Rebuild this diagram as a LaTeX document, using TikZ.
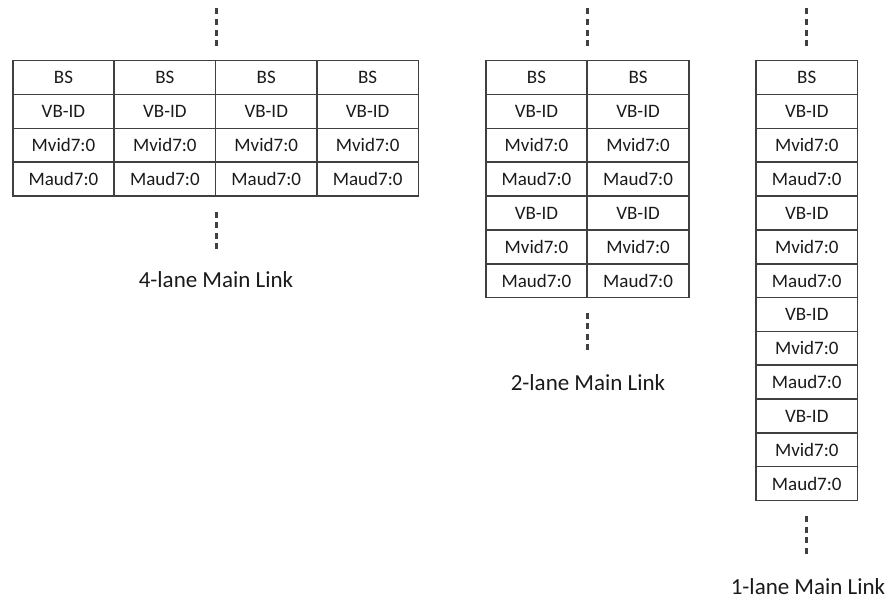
\documentclass[tikz,border=0pt]{standalone}
\usepackage{fontspec}
\setmainfont{Carlito}
\definecolor{linec}{HTML}{404040}
\definecolor{textc}{HTML}{1A1A1A}
\begin{document}
\begin{tikzpicture}[x=1pt,y=-1pt,
  cell/.style={draw=linec,line width=1.6pt,minimum width=101.5pt,minimum height=33.85pt,
    inner sep=0pt,outer sep=0pt,anchor=north west,text=textc,font=\fontsize{19}{19}\selectfont},
  vdots/.style={draw=linec,line width=3pt,dash pattern=on 6pt off 4.6pt},
  lbl/.style={text=textc,font=\fontsize{23}{23}\selectfont,inner sep=0pt}]
\useasboundingbox (0,0) rectangle (890,599);
% 4-lane
\foreach \c in {0,...,3}{
  \foreach \r/\t in {0/BS,1/VB-ID,2/Mvid7:0,3/Maud7:0}{
    \node[cell] (a-\c-\r) at ({12.7+101.4*\c},{60.7+33.83*\r}) {\t};
  }
}
% 2-lane
\foreach \c in {0,1}{
  \foreach \r/\t in {0/BS,1/VB-ID,2/Mvid7:0,3/Maud7:0,4/VB-ID,5/Mvid7:0,6/Maud7:0}{
    \node[cell] (b-\c-\r) at ({485.7+101.6*\c},{60.7+33.83*\r}) {\t};
  }
}
% 1-lane
\foreach \r/\t in {0/BS,1/VB-ID,2/Mvid7:0,3/Maud7:0,4/VB-ID,5/Mvid7:0,6/Maud7:0,7/VB-ID,8/Mvid7:0,9/Maud7:0,10/VB-ID,11/Mvid7:0,12/Maud7:0}{
  \node[cell] (c-\r) at (756,{60.7+33.83*\r}) {\t};
}
% dotted continuation marks
\coordinate (a-top1) at (216,8.5);   \coordinate (a-top2) at (216,47);
\coordinate (a-bot1) at (216,211.5); \coordinate (a-bot2) at (216,250);
\coordinate (b-top1) at (587.3,8.5); \coordinate (b-top2) at (587.3,47);
\coordinate (b-bot1) at (587.3,312.5); \coordinate (b-bot2) at (587.3,351);
\coordinate (c-top1) at (806.8,8.5); \coordinate (c-top2) at (806.8,47);
\coordinate (c-bot1) at (806.8,516); \coordinate (c-bot2) at (806.8,554.5);
\foreach \p in {a-top,a-bot,b-top,b-bot,c-top,c-bot}{
  \draw[vdots] (\p1) -- (\p2);
}
% labels
\node[lbl] (la) at (216,280) {4-lane Main Link};
\node[lbl] (lb) at (588,383) {2-lane Main Link};
\node[lbl] (lc) at (808,587) {1-lane Main Link};
\end{tikzpicture}
\end{document}
